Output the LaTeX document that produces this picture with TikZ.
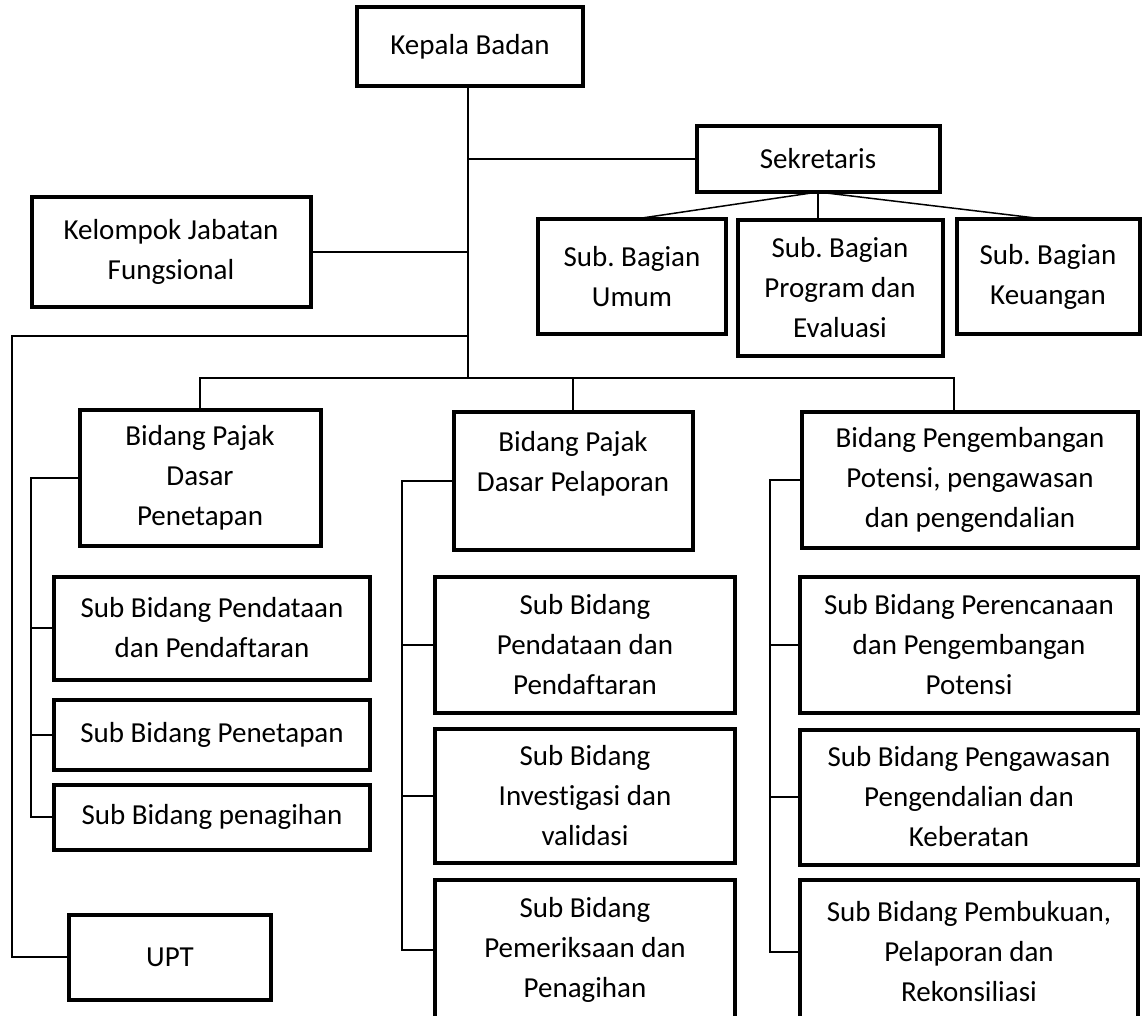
\documentclass[tikz,border=0pt]{standalone}
\usepackage{fontspec}
\setmainfont{Carlito}[Ligatures=NoCommon]
\usepackage{tikz}
\frenchspacing
\tikzset{
  unit/.style={draw, line width=4pt, align=center, inner sep=0pt, outer sep=0pt,
               font=\fontsize{29}{40}\selectfont},
  wire/.style={draw, line width=1.5pt}
}

\begin{document}
\begin{tikzpicture}[x=1pt, y=-1pt]
\clip (0,0) rectangle (1146,1016);
\fill[white] (0,0) rectangle (1146,1016);
% top levels
\node[unit, minimum width=226, minimum height=79] (kepala) at (470,47) {Kepala Badan};
\node[unit, minimum width=243, minimum height=66] (sek) at (818,159) {Sekretaris};
\node[unit, minimum width=279, minimum height=110] (kel) at (171,252) {Kelompok Jabatan\\Fungsional};
\node[unit, minimum width=188, minimum height=115] (umum) at (632,277) {Sub. Bagian\\Umum};
\node[unit, minimum width=205, minimum height=136] (prog) at (840,288) {Sub. Bagian\\Program dan\\Evaluasi};
\node[unit, minimum width=183, minimum height=115] (keu) at (1048,277) {Sub. Bagian\\Keuangan};
% bidang
\node[unit, minimum width=241, minimum height=136] (bid1) at (200,478) {Bidang Pajak\\Dasar\\Penetapan};
\node[unit, minimum width=239, minimum height=138] (bid2) at (573,481) {Bidang Pajak\\Dasar Pelaporan\\\mbox{}};
\node[unit, minimum width=336, minimum height=136] (bid3) at (970,480) {Bidang Pengembangan\\Potensi, pengawasan\\dan pengendalian};
% sub bidang
\node[unit, minimum width=316, minimum height=103] (p1a) at (212,628) {Sub Bidang Pendataan\\dan Pendaftaran};
\node[unit, minimum width=316, minimum height=70] (p1b) at (212,735) {Sub Bidang Penetapan};
\node[unit, minimum width=316, minimum height=65] (p1c) at (212,817) {Sub Bidang penagihan};
\node[unit, minimum width=300, minimum height=136] (p2a) at (585,645) {Sub Bidang\\Pendataan dan\\Pendaftaran};
\node[unit, minimum width=300, minimum height=134] (p2b) at (585,796) {Sub Bidang\\Investigasi dan\\validasi};
\node[unit, minimum width=300, minimum height=140] (p2c) at (585,950) {Sub Bidang\\Pemeriksaan dan\\Penagihan};
\node[unit, minimum width=338, minimum height=136] (p3a) at (969,645) {Sub Bidang Perencanaan\\dan Pengembangan\\Potensi};
\node[unit, minimum width=338, minimum height=135] (p3b) at (969,797) {Sub Bidang Pengawasan\\Pengendalian dan\\Keberatan};
\node[unit, minimum width=338, minimum height=144] (p3c) at (969,952) {Sub Bidang Pembukuan,\\Pelaporan dan\\Rekonsiliasi};
\node[unit, minimum width=202, minimum height=85] (upt) at (170,957) {UPT};
% junctions
\coordinate (hub) at (468,378);
\coordinate (split) at (468,336);
\coordinate (outer) at (12,336);
\coordinate (drop3) at (954,378);
\coordinate (r1) at (31,0);
\coordinate (r2) at (402,0);
\coordinate (r3) at (770,0);
% lines
\draw[wire] (kepala.south -| hub) -- (hub);
\draw[wire] (sek.west) -- (sek.west -| hub);
\draw[wire] (kel.east) -- (kel.east -| hub);
\foreach \s in {umum,keu} \draw[wire] (sek.south) -- (\s.north);
\draw[wire] (sek.south) -- (sek.south |- prog.north);
\draw[wire] (split) -- (outer) |- (upt.west);
\draw[wire] (bid1.north) |- (drop3) -- (drop3 |- bid3.north);
\draw[wire] (bid2.north) -- (bid2.north |- hub);
\draw[wire] (bid1.west) -| (p1c.west -| r1) -- (p1c.west);
\draw[wire] (bid2.west) -| (p2c.west -| r2) -- (p2c.west);
\draw[wire] (bid3.west) -| (p3c.west -| r3) -- (p3c.west);
\foreach \s in {p1a,p1b} \draw[wire] (\s.west) -- (\s.west -| r1);
\foreach \s in {p2a,p2b} \draw[wire] (\s.west) -- (\s.west -| r2);
\foreach \s in {p3a,p3b} \draw[wire] (\s.west) -- (\s.west -| r3);
\end{tikzpicture}
\end{document}
